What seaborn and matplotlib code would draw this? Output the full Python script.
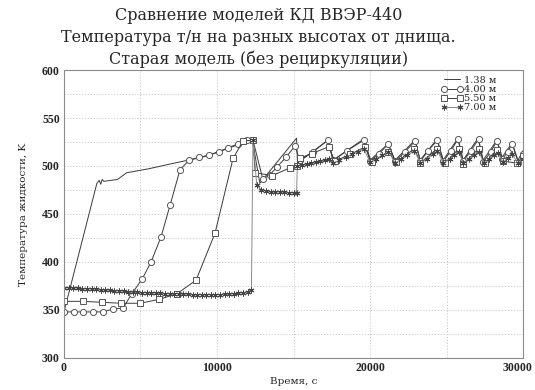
import numpy as np
import pandas as pd
import matplotlib
matplotlib.use("Agg")
import matplotlib.pyplot as plt
from matplotlib.lines import Line2D
from matplotlib.ticker import MultipleLocator
from matplotlib.transforms import ScaledTranslation
import seaborn as sns

# ---------------- data ----------------
title_lines = ["Сравнение моделей КД ВВЭР-440",
               "Температура т/н на разных высотах от днища.",
               "Старая модель (без рециркуляции)"]
x_label = "Время, с"
y_label = "Температура жидкости, K"
series_labels = ["1.38 м", "4.00 м", "5.50 м", "7.00 м"]

t_138 = [0, 2150, 2300, 2400, 2500, 2600, 3500, 4100, 5500, 7500, 9000, 10500, 11500, 12300,
         12800, 15200, 15260, 17250, 17580, 19670, 20000, 21180, 21630, 22940, 23270,
         24380, 24780, 25750, 26080, 27060, 27390, 28300, 28630, 29280, 29670, 30000]
v_138 = [348, 482, 485, 481, 486, 484, 486, 493, 497, 504, 509, 517, 523, 528,
         482, 529, 503, 527, 506, 529, 506, 523, 506, 527, 506,
         528, 506, 529, 506, 529, 506, 527, 509, 524, 506, 516]

t_400 = [0, 650, 1240, 1900, 2550, 3200, 3860, 4440, 5100, 5690, 6340, 6930, 7580, 8170,
         8820, 9480, 10130, 10720, 11370, 11960, 12350, 13000, 13460, 13920, 14510, 15100,
         15400, 16300, 17250, 17600, 18500, 19600, 20000, 20600, 21200, 21650, 22300,
         22950, 23300, 23800, 24400, 24800, 25300, 25750, 26100, 26600, 27100, 27400,
         27900, 28300, 28650, 29000, 29300, 29700, 30000]
v_400 = [348, 348, 348, 348, 348, 351, 352, 367, 382, 400, 426, 459, 496, 506,
         509, 511, 515, 519, 523, 527, 527, 486, 491, 499, 509, 521,
         506, 515, 527, 506, 516, 527, 505, 513, 523, 505, 515,
         526, 505, 516, 527, 505, 516, 528, 505, 516, 528, 504,
         515, 526, 507, 515, 523, 503, 512]

t_550 = [0, 1240, 2480, 3730, 4970, 6210, 7390, 8630, 9870, 11050, 11700, 12350, 12500,
         13600, 14770, 15230, 15400, 16200, 17300, 17700, 18700, 19700, 20100, 21200,
         21700, 22900, 23300, 24400, 24900, 25800, 26100, 27100, 27500, 28300, 28700,
         29600, 30000]
v_550 = [359, 359, 358, 357, 357, 361, 367, 381, 430, 508, 526, 527, 493,
         490, 498, 500, 508, 513, 520, 505, 512, 520, 504, 515,
         504, 518, 503, 518, 503, 518, 502, 518, 503, 517, 505,
         503, 510]

t_700 = [0, 300, 600, 900, 1200, 1500, 1800, 2100, 2400, 2700, 3000, 3300, 3600, 3900,
         4200, 4500, 4800, 5100, 5400, 5700, 6000, 6300, 6600, 6900, 7200, 7500, 7800,
         8100, 8400, 8700, 9000, 9300, 9600, 9900, 10200, 10500, 10800, 11100, 11400,
         11700, 12000, 12250, 12350, 12600, 12900, 13200, 13500, 13800, 14100, 14400,
         14700, 15000, 15200, 15250, 15550, 15850, 16150, 16450, 16750, 17050, 17300,
         17600, 18000, 18400, 18800, 19200, 19600, 20000, 20400, 20800, 21200, 21650,
         22050, 22450, 22900, 23300, 23700, 24100, 24400, 24800, 25200, 25500, 25800,
         26100, 26450, 26800, 27100, 27450, 27800, 28100, 28350, 28700, 29000, 29300,
         29650, 30000]
v_700 = [373, 373, 373, 372.5, 372, 372, 372, 371.5, 371, 371, 370.5, 370, 370, 369.5,
         369, 369, 368.5, 368, 368, 368, 367.5, 367.5, 367, 367, 367, 367, 366.5,
         366.5, 366, 366, 366, 366, 366, 366, 366, 366.5, 366.5, 367, 367.5,
         368, 369, 371, 527, 480, 475, 474, 473, 473, 473, 473,
         472, 472, 472, 500, 501, 502, 503, 504, 505, 506, 507,
         503, 506, 509, 512, 515, 518, 504, 507, 511, 515, 503,
         507, 511, 516, 503, 507, 512, 516, 503, 507, 511, 515,
         503, 507, 511, 515, 503, 507, 511, 514, 504, 508, 512,
         503, 507]

x_ticks = [0, 10000, 20000, 30000]
y_ticks = [300, 350, 400, 450, 500, 550, 600]

# ---------------- style ----------------
sns.set_theme(style="white")
plt.rcParams["font.family"] = ["DejaVu Serif", "DejaVu Sans"]

fig = plt.figure(figsize=(5.35, 3.9), dpi=100)
ax = fig.add_axes([0.1196, 0.0821, 0.858, 0.7384])

frames = [
    pd.DataFrame({"t": t_138, "T": v_138}),
    pd.DataFrame({"t": t_400, "T": v_400}),
    pd.DataFrame({"t": t_550, "T": v_550}),
    pd.DataFrame({"t": t_700, "T": v_700}),
]
styles = [
    dict(color="#3a3a3a", marker=None),
    dict(color="#3a3a3a", marker="o", markersize=4.4, markerfacecolor="white",
         markeredgecolor="#555555", markeredgewidth=0.7),
    dict(color="#3a3a3a", marker="s", markersize=3.8, markerfacecolor="white",
         markeredgecolor="#555555", markeredgewidth=0.7),
    dict(color="#8a8a8a", marker=(6, 2, 0), markersize=4.2,
         markeredgecolor="#444444", markeredgewidth=0.7),
]

handles = []
for df, st, lab in zip(frames, styles, series_labels):
    sns.lineplot(data=df, x="t", y="T", ax=ax, estimator=None, sort=False,
                 linewidth=0.7, legend=False, **st)
    handles.append(Line2D([], [], linewidth=0.7, label=lab, **st))

ax.set_xlim(0, 30000)
ax.set_ylim(300, 600)
ax.xaxis.set_minor_locator(MultipleLocator(5000))
ax.yaxis.set_minor_locator(MultipleLocator(25))
ax.set_xticks(x_ticks)
ax.set_yticks(y_ticks)
ax.grid(True, which="both", linestyle=(0, (1.5, 2)), linewidth=0.6, color="#c4c4c4")
ax.tick_params(axis="both", which="both", length=0, pad=3)
for lbl in ax.get_xticklabels() + ax.get_yticklabels():
    lbl.set_fontfamily("Liberation Serif")
    lbl.set_fontweight("bold")
    lbl.set_fontsize(8.5)
last = ax.get_xticklabels()[-1]
last.set_transform(last.get_transform() + ScaledTranslation(-6 / 100, 0, fig.dpi_scale_trans))
for s in ax.spines.values():
    s.set_color("#8c8c8c")
    s.set_linewidth(0.8)

ax.set_xlabel(x_label, fontsize=7.5, labelpad=2)
ax.set_ylabel(y_label, fontsize=7.5, labelpad=10)

fig.suptitle("\n".join(title_lines), x=0.483, y=0.982, fontsize=11.5,
             linespacing=1.35, va="top")

leg = ax.legend(handles=handles, loc="upper right", frameon=False, fontsize=7,
                numpoints=2, handlelength=2.3, handletextpad=0.1,
                labelspacing=0.02, borderaxespad=0.2,
                bbox_to_anchor=(0.955, 1.0))

fig.savefig("out.png", dpi=100)
